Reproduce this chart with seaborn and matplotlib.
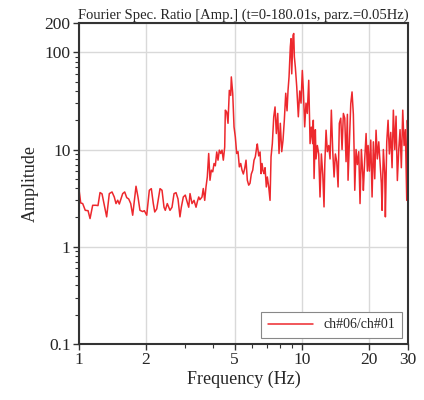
import pandas as pd
import seaborn as sns
import matplotlib.pyplot as plt
from matplotlib.ticker import FixedLocator, NullFormatter, LogLocator

# Spectral ratio ch#06/ch#01
freq = [
    1.000, 1.018, 1.039, 1.067, 1.098, 1.121, 1.152, 1.192, 1.217, 1.243,
    1.269, 1.295, 1.331, 1.368, 1.407, 1.440, 1.466, 1.492, 1.517, 1.571,
    1.604, 1.638, 1.672, 1.707, 1.742, 1.803, 1.840, 1.878, 1.932, 1.965,
    2.014, 2.069, 2.112, 2.156, 2.188, 2.234, 2.280, 2.311, 2.359, 2.408,
    2.440, 2.491, 2.562, 2.616, 2.671, 2.727, 2.783, 2.840, 2.880, 2.940,
    3.001, 3.045, 3.109, 3.151, 3.217, 3.284, 3.353, 3.398, 3.448, 3.490,
    3.567, 3.614, 3.668, 3.717, 3.767, 3.822, 3.874, 3.927, 3.985, 4.039,
    4.093, 4.153, 4.209, 4.266, 4.328, 4.386, 4.446, 4.510, 4.539, 4.605,
    4.667, 4.730, 4.799, 4.829, 4.899, 4.966, 5.032, 5.105, 5.176, 5.246,
    5.322, 5.394, 5.468, 5.546, 5.622, 5.698, 5.781, 5.859, 5.938, 6.025,
    6.106, 6.188, 6.279, 6.318, 6.410, 6.500, 6.567, 6.635, 6.704, 6.773,
    6.844, 6.934, 7.006, 7.109, 7.206, 7.281, 7.379, 7.487, 7.588, 7.691,
    7.803, 7.908, 8.014, 8.131, 8.241, 8.353, 8.475, 8.590, 8.679, 8.770,
    8.888, 8.954, 9.018, 9.139, 9.207, 9.265, 9.361, 9.497, 9.654, 9.795,
    9.927, 10.06, 10.17, 10.31, 10.45, 10.59, 10.75, 10.90, 11.04, 11.20,
    11.27, 11.36, 11.51, 11.59, 11.75, 11.92, 12.08, 12.25, 12.43, 12.59,
    12.69, 12.86, 13.03, 13.22, 13.40, 13.58, 13.78, 13.97, 14.16, 14.36,
    14.56, 14.75, 14.97, 15.17, 15.38, 15.60, 15.81, 16.03, 16.14, 16.36,
    16.60, 16.82, 17.05, 17.18, 17.30, 17.53, 17.77, 18.03, 18.27, 18.52,
    18.79, 18.91, 19.18, 19.45, 19.71, 19.86, 20.12, 20.41, 20.69, 20.97,
    21.27, 21.56, 21.85, 22.17, 22.50, 22.77, 22.94, 23.25, 23.59, 23.74,
    24.08, 24.41, 24.74, 25.10, 25.44, 25.78, 26.16, 26.51, 26.87, 27.26,
    27.63, 28.00, 28.41, 28.80, 29.19, 29.61, 29.80, 30.00,
]
amp = [
    3.88, 2.82, 2.78, 2.37, 2.35, 1.95, 2.67, 2.67, 2.65, 3.61,
    3.50, 2.78, 2.03, 3.52, 3.66, 3.25, 2.78, 3.01, 2.75, 3.52,
    3.66, 3.20, 3.10, 2.78, 2.11, 4.19, 3.25, 2.37, 2.30, 2.35,
    2.11, 3.81, 3.96, 2.78, 2.28, 2.45, 3.25, 3.96, 3.81, 2.55,
    2.37, 2.78, 2.37, 2.55, 3.52, 3.60, 3.10, 2.03, 2.55, 3.25,
    3.40, 3.00, 2.55, 3.52, 2.78, 3.00, 2.55, 2.90, 3.25, 3.05,
    3.25, 3.97, 3.00, 4.12, 5.22, 9.10, 4.83, 6.13, 5.90, 7.18,
    6.80, 9.44, 7.77, 9.85, 9.10, 9.85, 7.77, 10.6, 25.4, 24.3,
    18.6, 40.6, 36.0, 55.8, 37.9, 17.1, 13.5, 9.10, 9.50, 6.63,
    7.18, 6.13, 5.60, 6.40, 7.77, 4.83, 4.30, 4.50, 5.60, 6.13,
    7.77, 8.40, 10.6, 11.4, 8.60, 9.44, 5.65, 7.18, 6.00, 5.65,
    6.50, 4.12, 5.22, 4.12, 3.00, 8.40, 11.5, 21.7, 27.4, 14.6,
    23.5, 9.10, 18.6, 9.50, 12.5, 20.0, 37.9, 25.0, 40.6, 55.8,
    114, 138, 60.0, 150, 156, 90.0, 70.0, 44.0, 21.7, 40.0,
    30.0, 65.0, 40.0, 17.1, 30.0, 23.5, 51.5, 11.5, 17.0, 11.5,
    20.0, 5.03, 16.0, 8.00, 11.0, 9.00, 3.25, 9.00, 5.50, 2.57,
    7.00, 15.8, 9.50, 11.0, 8.00, 25.4, 9.50, 5.22, 9.00, 7.50,
    4.12, 18.6, 21.0, 10.0, 23.5, 21.0, 7.50, 23.0, 4.83, 12.0,
    29.6, 39.1, 23.0, 10.0, 3.81, 10.0, 7.00, 9.50, 2.78, 10.0,
    5.50, 3.80, 8.00, 14.6, 6.00, 11.0, 6.00, 12.5, 3.25, 12.0,
    5.00, 15.8, 8.00, 12.0, 7.00, 4.50, 2.37, 10.0, 5.50, 2.03,
    12.0, 20.0, 9.00, 15.0, 6.50, 25.4, 10.0, 22.0, 4.80, 10.0,
    16.0, 6.50, 25.4, 11.0, 16.0, 3.00, 20.0, 12.0,
]

x_ticks = [1, 2, 5, 10, 20, 30]
x_labels = ['1', '2', '5', '10', '20', '30']
y_ticks = [0.1, 1, 10, 100, 200]
y_labels = ['0.1', '1', '10', '100', '200']

df = pd.DataFrame({'freq': freq, 'amp': amp, 'pair': 'ch#06/ch#01'})

sns.set_theme(style='ticks')
plt.rcParams['font.family'] = ['Liberation Serif', 'DejaVu Serif']

fig = plt.figure(figsize=(4.24, 4.0), dpi=100)
ax = fig.add_axes([0.1863, 0.14, 0.776, 0.8025])

sns.lineplot(data=df, x='freq', y='amp', hue='pair', palette=['#ed282d'],
             linewidth=1.1, sort=False, ax=ax)

ax.set_xscale('log')
ax.set_yscale('log')
ax.set_xlim(1, 30)
ax.set_ylim(0.1, 200)

ax.xaxis.set_major_locator(FixedLocator(x_ticks))
ax.set_xticklabels(x_labels)
ax.xaxis.set_minor_locator(LogLocator(base=10, subs=range(2, 10)))
ax.xaxis.set_minor_formatter(NullFormatter())
ax.yaxis.set_major_locator(FixedLocator(y_ticks))
ax.set_yticklabels(y_labels)
ax.yaxis.set_minor_locator(LogLocator(base=10, subs=range(2, 10)))
ax.yaxis.set_minor_formatter(NullFormatter())

ax.grid(True, which='major', color='#d9d9d9', linewidth=1.0)
ax.set_axisbelow(True)
ax.tick_params(axis='both', which='major', labelsize=12.5, length=4, width=1.0,
               direction='out', color='#333333', pad=2)
ax.tick_params(axis='both', which='minor', length=3, width=0.8,
               direction='out', color='#333333')
for sp in ax.spines.values():
    sp.set_visible(True)
    sp.set_linewidth(1.5)
    sp.set_color('#333333')

ax.set_xlabel('Frequency (Hz)', fontsize=13, labelpad=2)
ax.set_ylabel('Amplitude', fontsize=13, labelpad=4)
ax.set_title('Fourier Spec. Ratio [Amp.] (t=0-180.01s, parz.=0.05Hz)',
             fontsize=10.5, pad=3)

leg = ax.legend(loc='lower right', fontsize=10, frameon=True, fancybox=False,
                edgecolor='#888888', framealpha=1, handlelength=3.2,
                borderpad=0.5, borderaxespad=0.4)
leg.get_frame().set_linewidth(0.8)

fig.savefig('out.png', dpi=100)
